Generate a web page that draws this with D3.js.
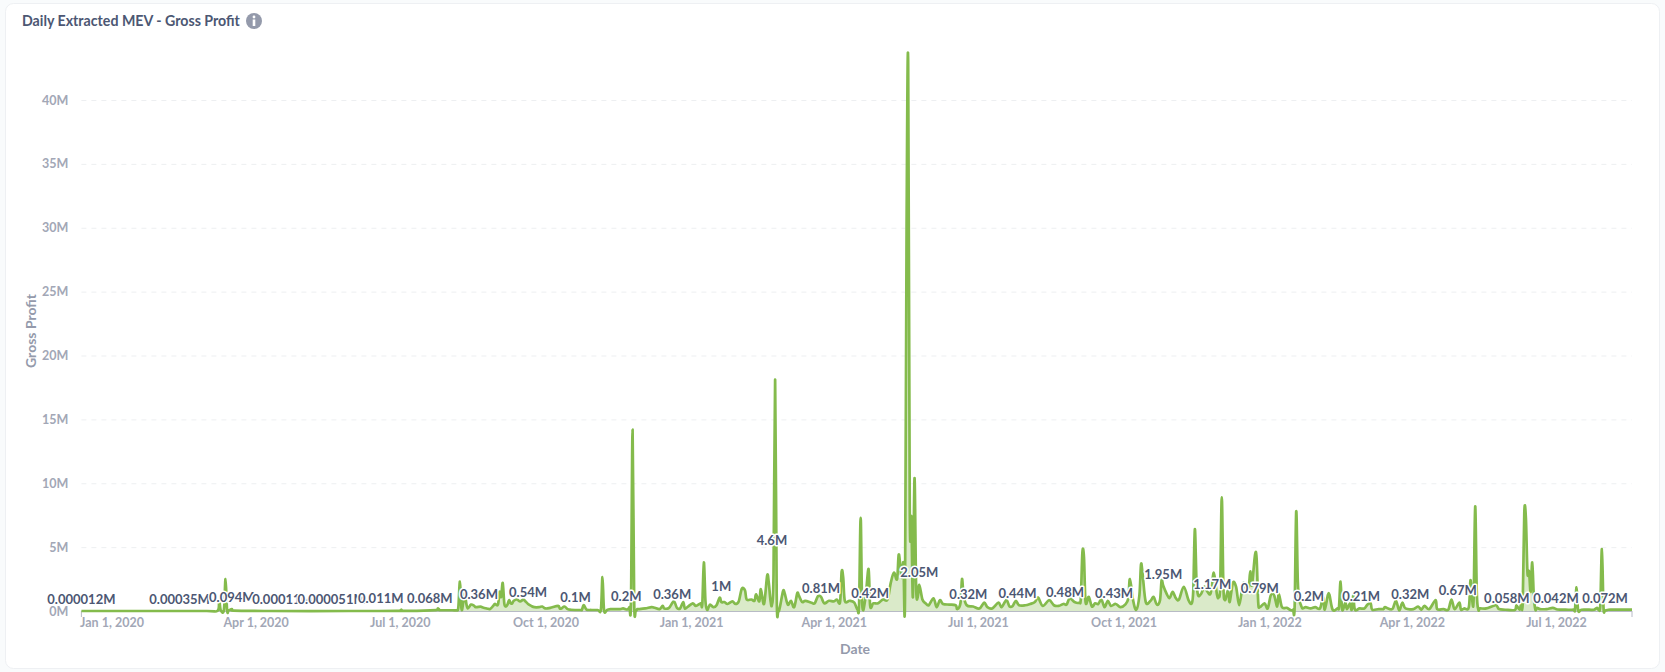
<!DOCTYPE html>
<html><head><meta charset="utf-8">
<script src="https://d3js.org/d3.v7.min.js"></script>
<style>
html,body{margin:0;padding:0;background:#f9fbfc;}
svg{display:block;font-family:Lato,sans-serif;}
</style></head><body>
<svg id="c" width="1665" height="672"></svg>
<script>
// Day offsets from Jan 1, 2020 and gross profit in millions
const days2020a=[-19,30,60,67,68,69,71,72,73,74,
76,77,100,150,180,183,184,205,206,207];
const profit2020a=[.000012,.0003,.00035,.02,.8,.05,.1,2.5,.03,.05,
.15,.03,.0001,.00005,.011,.1,.01,.07,.2,.07];
const days2020b=[215,218,219,220,221,222,223,224,225,227,
229,230,233,234,237,239,241,242,244,245,
246,247,248,249,250,251,252,253,254,256,
258,260,261,263,265,267,270,272,274,277,
282,283,284,286,288,290,296,297,298,299,
300,303,307,309,310,311,313,315,317];
const profit2020b=[.06,.06,.3,2.3,.15,.6,1.5,.6,.2,.5,
.4,.3,.35,.3,.2,.15,.4,.55,.5,1.5,
1.1,2.2,.6,.35,.5,.85,.6,.6,.8,.9,
.75,.9,.8,.55,.4,.3,.3,.35,.2,.25,
.4,.2,.2,.35,.15,.1,.08,.1,.45,.3,
.1,.08,.08,.1,2.65,.05,.1,.15,.15];
const daysC=[321,323,325,326,327,328,329,330,331,332,
333,337,341,343,346,348,349,352,355,357,
359,361,362,364,367,369,372,373,374,375,
376,377,378,380,382,384,385,387,389,392,
394,396,398,400,401,404,406,407,409,410,
412,414,415,416,417,418,419,420,421,422,
424,425,427,429,431,433,434];
const profitC=[.15,.2,.12,.15,.3,.8,14.2,.8,.05,.15,
.15,.2,.3,.25,.15,.4,.2,.25,.75,.25,
.2,.7,.2,.35,.6,.4,.6,.5,3.8,.8,
.1,.3,.5,.3,.45,1.05,.7,.7,.55,.75,
.55,.75,1.75,1.6,.9,.9,.8,1.3,.75,1.7,
.55,2.8,2.2,.9,.5,3,18.1,1.2,.02,.3,
1.55,1.4,.5,.8,.3,1.4,1.2];
const daysD=[436,438,442,444,446,448,450,453,456,458,
460,461,462,463,466,469,471,472,473,474,
476,478,479,481,484,487,490,492,494,496,
497,498,499,500,501,502,503,504,505,506,
507,508,509,510,512,514,516,519,521,523,
525,529,533,534,536,537,538,540,544,548];
const profitD=[.7,.8,.65,.6,1.15,1.1,.6,.8,.75,.9,
.7,3.1,2.6,.8,.8,.65,.1,.5,7.3,.5,
1,3.3,.4,.6,.6,.9,.9,2.2,3,2.5,
4.4,3.6,2.6,3.8,1,30,42.9,8,7.3,1.1,
10.4,2,1,2.05,.9,.6,.45,1,.3,.85,
.55,.5,.45,.15,.6,2.5,1.2,.45,.35,.2];
const daysE=[551,553,556,560,562,565,567,569,571,573,
577,580,583,585,588,592,595,598,601,603,
605,608,611,612,613,614,615,617,619,621,
623,625,627,629,631,634,637,640,642,643,
645,647,649,650,651,653,656,658,660];
const profitE=[.65,.3,.2,.65,.3,.85,.35,.4,.8,.45,
.45,.55,.7,1.05,.4,.85,.45,.4,.55,.5,
1,.7,.65,1,4.6,4.2,.7,1.1,.35,.6,
.55,.9,.3,.8,.4,.55,.3,.5,1,2.5,
.85,.1,1.25,3.65,2.9,.7,.8,1.1,.5];
const daysF=[662,663,664,666,668,670,672,674,677,680,
682,683,684,685,686,688,690,692,694,696,
698,699,700,701,702,703,705,706,708,710,
712,714,715,716,718,719,720,722,723,724,
725,728,730,732,734,736,737,739,742,744,
745,746,747,748,749,750,751,752,754,757,
760,763,765,766,768,769,771,774];
const profitF=[.85,2.4,2,1.4,1,1.5,1,.9,1.9,.85,
.6,1.6,6.4,2.5,1.25,1.35,1.9,1.5,1.4,3,
1.25,1.1,2,8.9,2,.85,1.6,.7,2.2,1.9,
.45,1.9,2.2,1.8,1.9,3.1,2,4.4,4.1,.7,
.3,.6,.2,1.25,1.25,.35,1.35,.3,.25,.1,
.05,.1,.3,7.8,2.3,.9,.45,.2,.3,.2,
.3,.2,1.1,.1,1.25,1.25,.1,.2];
const daysG=[775,776,777,779,780,782,783,784,785,788,
791,793,795,796,800,803,804,807,809,811,
813,815,817,822,825,827,829,832,836,837,
841,844,846,848,851,852,854,857,858,859,
860,861,862,863,864,868,874,876,880,886,
887,889,890,891,892,893,894,895,896,897,
898,899,900,902,906,910,913,918,923,924,
925,926,928,933,936,938,939,940,941,942,
943,945,949,952,955,958,960];
const profitG=[.3,2.3,.1,.65,.15,.6,.1,1.3,.12,.2,
.2,.5,.6,.1,.15,.15,.3,.15,.2,.8,
.05,.65,.2,.15,.35,.1,.4,.15,.85,.15,
.15,.1,.9,.15,.65,.1,.2,.3,2.4,1,
.9,8.2,1.5,.1,.2,.2,.45,.15,.1,.08,
.45,.1,.55,.6,7.7,7.3,3,3.1,1.5,3.8,
1.2,.1,.25,.15,.15,.25,.12,.1,.1,.1,
1.85,.05,.1,.1,.1,.25,.1,.5,4.85,.3,
.05,.1,.1,.1,.1,.1,.1];

// Data labels
const labelDays=[-19,43,76,108,139,170,201,232,263,293,325,354,385,417,448,479,510,541,572,602,633,664,695,725,756,789,820,850,881,912,943];
const labelValues=["0.000012","0.00035","0.094","0.00011","0.000051","0.011","0.068","0.36","0.54","0.1","0.2","0.36","1","4.6","0.81","0.42","2.05","0.32","0.44","0.48","0.43","1.95","1.17","0.79","0.2","0.21","0.32","0.67","0.058","0.042","0.072"];

const yTicks=[0,5,10,15,20,25,30,35,40];
const xTickDates=["2020-01-01","2020-04-01","2020-07-01","2020-10-01","2021-01-01","2021-04-01","2021-07-01","2021-10-01","2022-01-01","2022-04-01","2022-07-01"];
const titleText="Daily Extracted MEV - Gross Profit";

const toDate=d=>new Date(Date.UTC(2020,0,1+d));
const allDays=[].concat(days2020a,days2020b,daysC,daysD,daysE,daysF,daysG);
const allProfit=[].concat(profit2020a,profit2020b,profitC,profitD,profitE,profitF,profitG);
const series=d3.zip(allDays,allProfit);

const L=81.4,R=1632,B=611,Y40=100;
const x=d3.scaleUtc().domain([toDate(-19),toDate(960)]).range([L,R]);
const y=d3.scaleLinear().domain([0,40]).range([B,Y40]);

const svg=d3.select("#c");
svg.append("rect").attr("x",5.5).attr("y",3.5).attr("width",1654).attr("height",665).attr("rx",8)
  .attr("fill","#fff").attr("stroke","#eef0f3");

svg.append("text").attr("x",22).attr("y",26).attr("font-size",14.2).attr("font-weight",700).attr("fill","#4c5773").text(titleText);
const info=svg.append("g").attr("transform","translate(254,21)");
info.append("circle").attr("r",8).attr("fill","#949aab");
info.append("circle").attr("cy",-4).attr("r",1.4).attr("fill","#fff");
info.append("rect").attr("x",-1.3).attr("y",-1.5).attr("width",2.6).attr("height",6.5).attr("fill","#fff");

// grid
svg.append("g").selectAll("line").data(yTicks.filter(d=>d>0)).join("line")
  .attr("x1",L).attr("x2",R).attr("y1",d=>y(d)+.5).attr("y2",d=>y(d)+.5)
  .attr("stroke","#edeff1").attr("stroke-dasharray","5 5");

// y axis
const yAxis=svg.append("g").attr("transform",`translate(${L-10},0)`)
  .call(d3.axisLeft(y).tickValues(yTicks).tickSize(0).tickFormat(d=>d+"M"));
yAxis.select(".domain").remove();
yAxis.selectAll("text").attr("font-family","Lato").attr("font-size",12.5).attr("font-weight",700).attr("fill","#a2a7b6");

// x axis
const xAxis=svg.append("g").attr("transform",`translate(0,${B})`)
  .call(d3.axisBottom(x).tickValues(xTickDates.map(s=>new Date(s+"T00:00:00Z"))).tickSize(0).tickPadding(7).tickFormat(d3.utcFormat("%b %-d, %Y")));
xAxis.select(".domain").remove();
xAxis.selectAll("text").attr("font-family","Lato").attr("font-size",12.5).attr("font-weight",700).attr("fill","#a2a7b6");

const curve=d3.curveCardinal;
svg.append("path").datum(series)
  .attr("d",d3.area().curve(curve).x(d=>x(toDate(d[0]))).y0(y(0)).y1(d=>y(d[1])))
  .attr("fill","#84bb4c").attr("fill-opacity",.3);

// baseline & end ticks
svg.append("line").attr("x1",L).attr("x2",R).attr("y1",B+.5).attr("y2",B+.5).attr("stroke","#b8bbc6");
[L,R].forEach(px=>svg.append("line").attr("x1",px).attr("x2",px).attr("y1",B).attr("y2",B+6).attr("stroke","#b8bbc6"));

svg.append("path").datum(series)
  .attr("d",d3.line().curve(curve).x(d=>x(toDate(d[0]))).y(d=>y(d[1])))
  .attr("fill","none").attr("stroke","#84bb4c").attr("stroke-width",2.7).attr("stroke-linejoin","round");

// data labels
svg.append("g").selectAll("text").data(d3.zip(labelDays,labelValues)).join("text")
  .attr("x",d=>x(toDate(d[0]))).attr("y",d=>y(+d[1])-12).attr("dy",".35em")
  .attr("text-anchor","middle").attr("font-size",13).attr("font-weight",700).attr("fill","#4c5773")
  .attr("stroke","#fff").attr("stroke-width",3).attr("stroke-linejoin","round").attr("paint-order","stroke")
  .text(d=>d[1]+"M");

// axis titles
svg.append("text").attr("x",855).attr("y",654).attr("text-anchor","middle").attr("font-size",14).attr("font-weight",700).attr("fill","#949aab").text("Date");
svg.append("text").attr("transform","translate(36,331) rotate(-90)").attr("text-anchor","middle").attr("font-size",14).attr("font-weight",700).attr("fill","#949aab").text("Gross Profit");
</script>
</body></html>
